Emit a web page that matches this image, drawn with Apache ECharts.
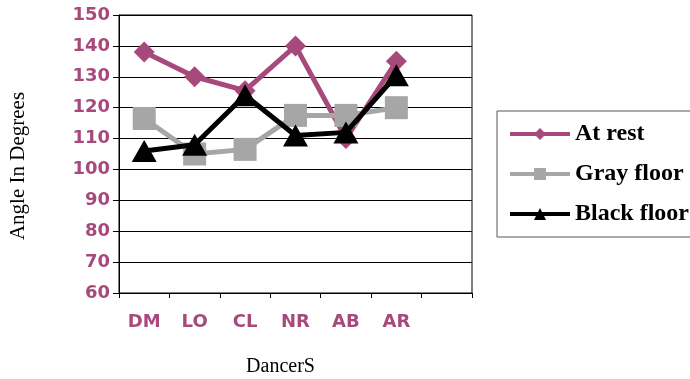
<!DOCTYPE html>
<html>
<head>
<meta charset="utf-8">
<script src="https://cdn.jsdelivr.net/npm/echarts@6/dist/echarts.min.js"></script>
<style>html,body{margin:0;padding:0;background:#fff;}#c{width:690px;height:379px;}</style>
</head>
<body>
<div id="c"></div>
<script>
const categories = ['DM', 'LO', 'CL', 'NR', 'AB', 'AR', ''];
const atRest = [138, 130, 125.5, 140, 110, 135];
const grayFloor = [116.5, 105, 106.5, 117.5, 117.5, 120];
const blackFloor = [106, 108, 124, 111, 112, 130.5];
const seriesNames = ['At rest', 'Gray floor', 'Black floor'];
const yMin = 60, yMax = 150, yStep = 10;

const pink = '#a8497c';
const chart = echarts.init(document.getElementById('c'), null, {renderer: 'canvas'});
chart.setOption({
  animation: false,
  backgroundColor: '#fff',
  grid: {left: 119, right: 218, top: 15, bottom: 86, show: true, borderColor: '#000', borderWidth: 1,
         containLabel: false, outerBoundsMode: 'none'},
  legend: {
    orient: 'vertical', left: 497, top: 111,
    padding: [10, 4, 10, 11],
    borderColor: '#555', borderWidth: 1,
    itemWidth: 60, itemHeight: 15, itemGap: 14,
    lineStyle: {width: 4},
    textStyle: {fontFamily: 'Liberation Serif', fontWeight: 'bold', fontSize: 24, color: '#000', lineHeight: 26},
    data: seriesNames
  },
  xAxis: {
    type: 'category', data: categories, boundaryGap: true,
    axisLine: {lineStyle: {color: '#000', width: 1}},
    axisTick: {show: true, length: 5, lineStyle: {color: '#000'}},
    axisLabel: {interval: 0, margin: 20, color: pink, fontFamily: 'DejaVu Sans', fontWeight: 'bold', fontSize: 18},
    name: 'DancerS', nameLocation: 'middle', nameGap: 64,
    nameTextStyle: {fontFamily: 'Liberation Serif', fontSize: 20, color: '#000', padding: [0, 30, 0, 0]}
  },
  yAxis: {
    type: 'value', min: yMin, max: yMax, interval: yStep,
    axisLine: {show: true, lineStyle: {color: '#000', width: 1}},
    axisTick: {show: true, length: 6, lineStyle: {color: '#000'}},
    splitLine: {show: true, lineStyle: {color: '#000', width: 1}},
    axisLabel: {margin: 9, color: pink, fontFamily: 'DejaVu Sans', fontWeight: 'bold', fontSize: 18},
    name: 'Angle In Degrees', nameLocation: 'middle', nameGap: 90,
    nameTextStyle: {fontFamily: 'Liberation Serif', fontSize: 21, color: '#000', padding: [0, 24, 0, 0]}
  },
  series: [
    {name: seriesNames[0], type: 'line', data: atRest, symbol: 'diamond', symbolSize: 21,
     lineStyle: {color: pink, width: 5}, itemStyle: {color: pink}, z: 2},
    {name: seriesNames[1], type: 'line', data: grayFloor, symbol: 'rect', symbolSize: 23,
     lineStyle: {color: '#a6a6a6', width: 5}, itemStyle: {color: '#a6a6a6'}, z: 3},
    {name: seriesNames[2], type: 'line', data: blackFloor, symbol: 'triangle', symbolSize: [25, 22],
     lineStyle: {color: '#000', width: 5}, itemStyle: {color: '#000'}, z: 4}
  ]
});
</script>
</body>
</html>
